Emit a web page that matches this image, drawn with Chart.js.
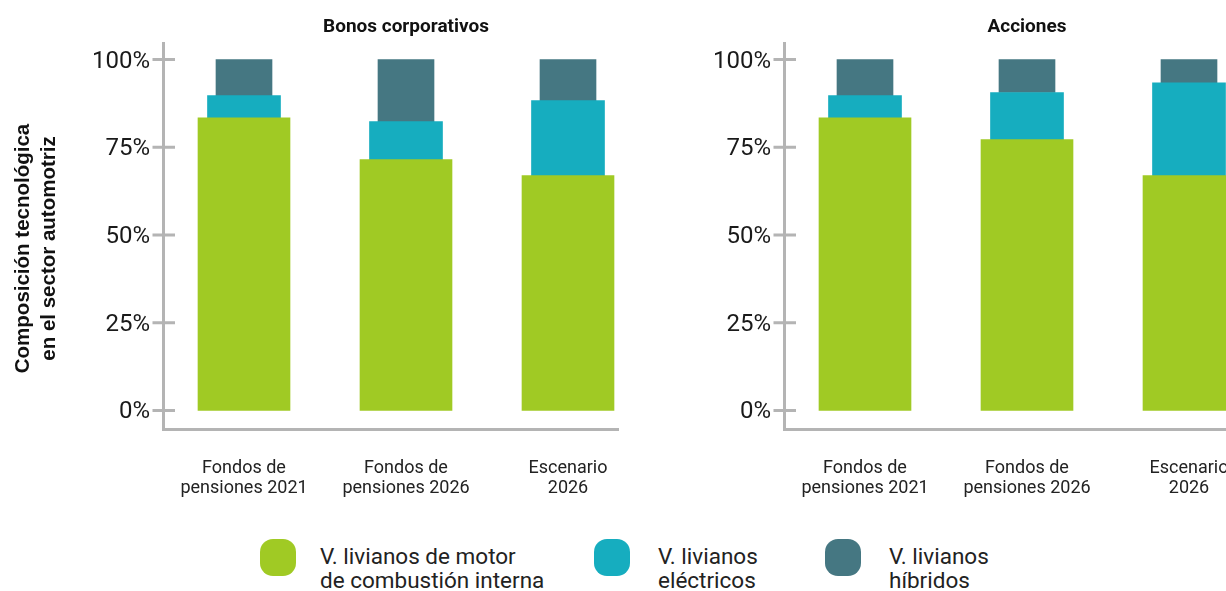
<!DOCTYPE html>
<html>
<head>
<meta charset="utf-8">
<script src="https://cdn.jsdelivr.net/npm/chart.js@4.4.0/dist/chart.umd.min.js"></script>
<style>
    html, body { margin: 0; padding: 0; background: #fff; overflow: hidden; }
    #wrap { position: relative; width: 1226px; height: 591px; overflow: hidden; font-family: Roboto, sans-serif; }
    .panel { position: absolute; top: 0; }
    #leftPanel { left: 0; }
    #rightPanel { left: 621px; }
    .legend-item { position: absolute; top: 539px; }
    .swatch { position: absolute; left: 0; top: 0; width: 36px; height: 37px; border-radius: 13px; }
    .legend-text { position: absolute; top: 5px; font-size: 22.5px; line-height: 24px; color: #222; white-space: nowrap; }
</style>
</head>
<body>
<div id="wrap">
    <div class="panel" id="leftPanel"><canvas id="bonosChart" width="649" height="530"></canvas></div>
    <div class="panel" id="rightPanel"><canvas id="accionesChart" width="649" height="530"></canvas></div>
    <div id="legend"></div>
</div>
<script>
// categories and tick labels
const categories = [["Fondos de", "pensiones 2021"], ["Fondos de", "pensiones 2026"], ["Escenario", "2026"]];
const yTicks = [0, 25, 50, 75, 100];
const seriesNames = [
    ["V. livianos de motor", "de combustión interna"],
    ["V. livianos", "eléctricos"],
    ["V. livianos", "híbridos"]
];
const seriesColors = ["#a0ca24", "#16adbf", "#457782"];

// Bonos corporativos (%)
const bonosCombustion = [83.4, 71.5, 66.9];
const bonosElectricos = [6.3, 10.8, 21.4];
const bonosHibridos = [10.3, 17.7, 11.7];

// Acciones (%)
const accionesCombustion = [83.4, 77.2, 66.9];
const accionesElectricos = [6.3, 13.4, 26.5];
const accionesHibridos = [10.3, 9.4, 6.6];

const barWidths = [92, 73, 56];
const axisGray = "#b4b4b4";

// axis lines and crossing tick marks
const axisLines = {
    id: "axisLines",
    afterDraw(chart, args, opts) {
        const ctx = chart.ctx;
        const a = chart.chartArea;
        const y = chart.scales.y;
        ctx.save();
        ctx.strokeStyle = axisGray;
        ctx.lineWidth = 3;
        ctx.beginPath();
        ctx.moveTo(a.left + 0.5, a.top);
        ctx.lineTo(a.left + 0.5, a.bottom + 3);
        ctx.moveTo(a.left - 1, a.bottom + 1.5);
        ctx.lineTo(a.right - 30, a.bottom + 1.5);
        y.ticks.forEach(t => {
            const py = y.getPixelForValue(t.value);
            ctx.moveTo(a.left - 10.5, py);
            ctx.lineTo(a.left + 12, py);
        });
        ctx.stroke();

        if (opts.yTitle) {
            ctx.fillStyle = "#111";
            ctx.font = "bold 20.5px 'Liberation Sans', Arial, sans-serif";
            ctx.textAlign = "center";
            ctx.textBaseline = "middle";
            ctx.translate(23, 248.5);
            ctx.rotate(-Math.PI / 2);
            opts.yTitle.forEach((line, i) => ctx.fillText(line, 0, i * 26));
        }
        ctx.restore();
    }
};

function makeChart(id, title, values, yTitle) {
    const ctx = document.getElementById(id).getContext("2d");
    return new Chart(ctx, {
        type: "bar",
        data: {
            labels: categories,
            datasets: values.map((vals, i) => ({
                label: seriesNames[i].join(" "),
                data: vals,
                backgroundColor: seriesColors[i],
                barThickness: barWidths[i],
                borderWidth: 0
            }))
        },
        options: {
            responsive: false,
            animation: false,
            layout: { padding: 0 },
            plugins: {
                legend: { display: false },
                tooltip: { enabled: false },
                title: {
                    display: true,
                    text: title,
                    fullSize: false,
                    color: "#111",
                    font: { family: "Roboto", size: 19, weight: "bold", lineHeight: "22px" },
                    padding: { top: 16, bottom: 4 }
                },
                axisLines: { yTitle: yTitle }
            },
            scales: {
                x: {
                    stacked: true,
                    offset: true,
                    grid: { display: false, drawTicks: false },
                    border: { display: false },
                    ticks: {
                        color: "#222",
                        font: { family: "Roboto", size: 18, lineHeight: "20px" },
                        padding: 30,
                        maxRotation: 0,
                        autoSkip: false
                    },
                    afterFit: s => { s.height = 102; }
                },
                y: {
                    stacked: true,
                    min: -5,
                    max: 105,
                    grid: { display: false, drawTicks: false },
                    border: { display: false },
                    ticks: {
                        color: "#1a1a1a",
                        font: { family: "Roboto", size: 24 },
                        padding: 13,
                        labelOffset: 2,
                        callback: v => v + "%"
                    },
                    afterBuildTicks: s => { s.ticks = yTicks.map(v => ({ value: v })); },
                    afterFit: s => { s.width = 163; }
                }
            }
        },
        plugins: [axisLines]
    });
}

makeChart("bonosChart", "Bonos corporativos",
    [bonosCombustion, bonosElectricos, bonosHibridos],
    ["Composición tecnológica", "en el sector automotriz"]);
makeChart("accionesChart", "Acciones",
    [accionesCombustion, accionesElectricos, accionesHibridos], null);

// legend
const legend = document.getElementById("legend");
const legendLefts = [260, 594, 825];
const textOffsets = [60, 64, 64];
seriesNames.forEach((lines, i) => {
    const item = document.createElement("div");
    item.className = "legend-item";
    item.style.left = legendLefts[i] + "px";
    item.innerHTML = `<div class="swatch" style="background:${seriesColors[i]}"></div>
        <div class="legend-text" style="left:${textOffsets[i]}px">${lines.join("<br>")}</div>`;
    legend.appendChild(item);
});
</script>
</body>
</html>
